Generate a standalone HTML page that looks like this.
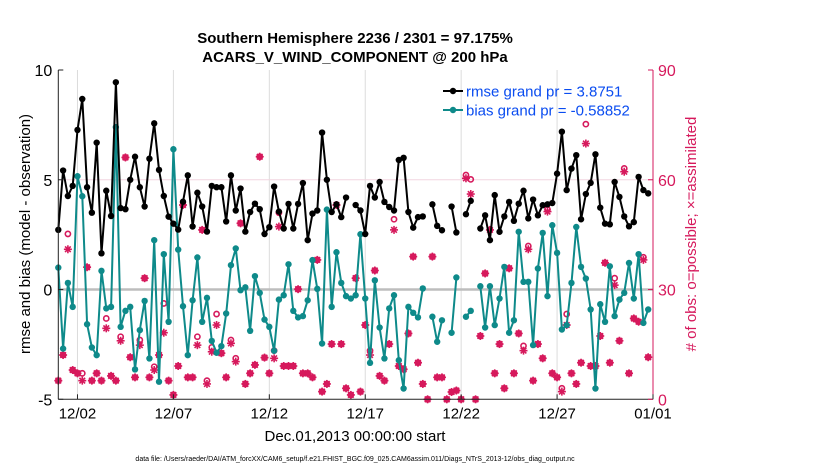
<!DOCTYPE html>
<html><head><meta charset="utf-8"><style>
body{margin:0;background:#fff}
svg{display:block;font-family:"Liberation Sans",sans-serif}
</style></head><body>
<svg id="chart" width="830" height="470" viewBox="0 0 830 470">
<text x="355" y="43" text-anchor="middle" font-size="15" font-weight="bold">Southern Hemisphere 2236 / 2301 = 97.175%</text>
<text x="355" y="62" text-anchor="middle" font-size="15" font-weight="bold">ACARS_V_WIND_COMPONENT @ 200 hPa</text>
<g id="grid"></g>
<g id="marks"></g>
<g id="axes"></g>
<text transform="translate(30,234) rotate(-90)" text-anchor="middle" font-size="15">rmse and bias (model - observation)</text>
<text transform="translate(696,234) rotate(-90)" text-anchor="middle" font-size="15" fill="#d6195c"># of obs: o=possible; ×=assimilated</text>
<text x="355" y="441" text-anchor="middle" font-size="15">Dec.01,2013 00:00:00 start</text>
<text x="355" y="461" text-anchor="middle" font-size="7">data file: /Users/raeder/DAI/ATM_forcXX/CAM6_setup/f.e21.FHIST_BGC.f09_025.CAM6assim.011/Diags_NTrS_2013-12/obs_diag_output.nc</text>
<g>
<line x1="443" y1="91" x2="463" y2="91" stroke="#000" stroke-width="2"/><circle cx="453" cy="91" r="3.2" fill="#000"/>
<text x="466" y="96.5" font-size="15" fill="#0a4cf0">rmse grand pr = 3.8751</text>
<line x1="443" y1="110" x2="463" y2="110" stroke="#0e8a8a" stroke-width="2"/><circle cx="453" cy="110" r="3.2" fill="#0e8a8a"/>
<text x="466" y="115.5" font-size="15" fill="#0a4cf0">bias grand pr = -0.58852</text>
</g>
</svg>
<script>
const rmse=[2.72,5.42,4.26,4.72,7.27,8.68,4.66,3.5,6.69,1.65,4.5,3.35,9.44,3.71,3.66,5.0,6.05,4.66,3.78,5.96,7.57,5.45,4.26,3.32,3.0,2.73,4.0,5.2,2.87,4.41,3.78,2.64,4.72,4.66,4.66,3.1,5.2,3.6,4.6,2.64,
3.53,3.91,3.66,2.53,2.84,4.69,3.55,2.78,3.9,2.78,3.9,4.85,2.25,3.46,3.6,7.15,5.0,3.53,3.88,3.3,4.19,null,3.85,3.6,2.53,4.72,4.19,4.9,3.99,3.76,3.6,5.9,6.0,3.53,2.82,3.3,3.33,null,3.88,2.9,2.7,
null,3.78,2.6,null,3.43,4.04,null,2.78,3.38,2.25,4.3,2.63,3.33,3.99,3.13,3.91,4.5,3.24,4.1,3.38,3.84,3.88,3.94,5.28,7.19,4.53,5.51,6.12,3.2,4.35,4.86,6.16,3.73,3.0,2.97,4.9,4.22,3.33,2.88,3.07,5.13,4.53,4.38];
const bias=[1.0,-2.69,0.3,-0.79,5.16,4.25,-1.58,-2.64,-2.99,0.85,-0.86,-0.79,7.4,-1.7,-0.97,-0.79,-3.64,-1.85,-0.52,-3.14,2.25,-4.2,1.61,-1.47,6.39,1.82,-0.76,-2.99,-0.49,1.46,-1.47,-0.38,-2.34,-2.88,-2.58,-1.09,1.11,1.87,-0.03,0.1,
-1.88,0.61,-0.15,-1.37,-1.7,-2.79,-0.46,-0.26,1.15,-0.97,-1.27,-1.21,-0.49,1.34,0.03,-2.46,3.64,-0.79,1.7,0.3,-0.3,-0.41,-0.26,2.52,-0.41,-3.34,0.42,-1.73,-3.14,-0.86,-0.26,-3.22,-4.51,-0.79,-1.06,-1.27,0.05,null,-1.24,-2.38,-1.4,
null,-1.97,0.55,null,-1.24,-0.97,null,0.15,-1.73,0.15,-1.62,-0.41,1.03,-1.97,-1.4,2.63,0.35,0.35,-2.53,0.96,2.58,-0.3,2.93,1.67,-1.82,-1.62,0.3,2.85,1.03,0.5,-0.91,-4.51,-0.67,-1.47,1.06,-1.21,-0.46,-0.15,1.21,-0.41,1.61,-1.52,-0.91];
const possible=[5.1,12.1,45.2,8.0,7.1,7.1,36.1,5.1,7.1,5.1,22.1,6.4,5.1,17.1,66.1,11.5,6.0,16.2,33.1,6.0,8.9,12.1,26.2,5.1,1.2,9.1,53.1,6.0,6.0,17.1,46.3,5.1,14.2,23.3,12.6,6.0,16.2,11.2,48.1,4.2,
7.1,9.4,66.3,11.4,7.1,13.3,51.0,9.1,9.1,9.1,30.1,7.1,7.1,6.0,38.1,2.1,4.2,15.1,53.1,15.1,3.0,1.2,33.1,2.1,20.3,13.3,35.2,6.4,5.1,15.1,49.2,9.1,8.2,18.0,39.0,10.0,4.2,0,39.0,6.0,6.0,
0,2,2.4,0,61.3,60.1,0,17.3,34.4,46.3,7.1,15.1,3.0,35.8,7.1,18.0,14.6,41.9,5.1,15.1,11.2,51.9,7.1,6.0,3.0,23.3,7.1,4.2,10.0,75.2,9.1,9.1,17.3,37.3,10.0,33.1,16.0,63.1,7.1,22.1,21.2,38.8,11.5];
const assimilated=[5.1,12.1,41.0,8.0,7.1,5.1,36.1,5.1,7.1,5.1,19.4,6.4,5.1,16.0,66.1,11.5,6.0,14.8,33.1,6.0,8.0,12.1,18.2,5.1,1.2,9.1,53.1,6.0,6.0,14.8,46.3,4.2,13.0,20.3,12.6,6.0,15.3,10.3,48.1,4.2,
7.1,9.4,66.3,11.4,7.1,11.2,47.2,9.1,9.1,9.1,30.1,7.1,7.1,6.0,38.1,2.1,4.2,15.1,53.1,15.1,3.0,1.2,33.1,2.1,20.3,12.1,35.2,6.4,5.1,15.1,46.3,9.1,8.2,18.0,39.0,10.0,4.2,0,39.0,6.0,6.0,
0,2,2.4,0,60.4,56.1,0,17.3,34.4,46.3,7.1,15.1,3.0,35.8,7.1,18.0,13.3,41.0,5.1,15.1,11.2,51.3,7.1,6.0,2.1,20.3,7.1,4.2,10.0,69.9,9.1,9.1,17.3,37.3,10.0,31.2,16.0,62.2,7.1,22.1,21.2,38.1,11.5];
const xTickLabels=["12/02","12/07","12/12","12/17","12/22","12/27","01/01"];
const xTickDays=[1,6,11,16,21,26,31];
const yTicks=[-5,0,5,10];
const yRTicks=[0,30,60,90];

const NS="http://www.w3.org/2000/svg";
const X0=58.3,X1=653,Y0=399.3,Y1=70;
const xs=d=>X0+d/31*(X1-X0);
const yL=v=>Y0-(v+5)/15*(Y0-Y1);
const yR=c=>Y0-c/90*(Y0-Y1);
const tOf=i=>i*0.25;
function mk(tag,attrs,parent){const e=document.createElementNS(NS,tag);for(const k in attrs)e.setAttribute(k,attrs[k]);parent.appendChild(e);return e;}
const grid=document.getElementById('grid'),marks=document.getElementById('marks'),axes=document.getElementById('axes');
mk('rect',{x:X0,y:Y1,width:X1-X0,height:Y0-Y1,fill:'#fff'},grid);
xTickDays.forEach(d=>{const l=mk('line',{x1:xs(d),x2:xs(d),y1:Y1,y2:Y0,stroke:'#dcdcdc','stroke-width':1},grid);

});
const g5=mk('line',{x1:X0,x2:X1,y1:yL(5),y2:yL(5),stroke:'#f2d6e0','stroke-width':1},grid);


const z=mk('line',{x1:X0,x2:X1,y1:yL(0),y2:yL(0),stroke:'#bdbdbd','stroke-width':2.5},grid);


// obs counts
const MG='#d6195c';
possible.forEach((c,i)=>{if(c==null)return;const e=mk('circle',{cx:xs(tOf(i)),cy:yR(c),r:2.6,fill:'none',stroke:MG,'stroke-width':1.6},marks);

});
assimilated.forEach((c,i)=>{if(c==null)return;const cx=xs(tOf(i)),cy=yR(c),r=4;
const g=mk('g',{stroke:MG,'stroke-width':1.6},marks);


for(let a=0;a<4;a++){const t=a*Math.PI/4;mk('line',{x1:cx-r*Math.cos(t),y1:cy-r*Math.sin(t),x2:cx+r*Math.cos(t),y2:cy+r*Math.sin(t)},g);}
mk('circle',{cx:cx,cy:cy,r:1.8,fill:MG,stroke:'none'},g);});
function series(arr,color,name){let d='',pen=false;
arr.forEach((v,i)=>{if(v==null){pen=false;return;}d+=(pen?'L':'M')+xs(tOf(i)).toFixed(1)+' '+yL(v).toFixed(1);pen=true;});
const p=mk('path',{d:d,fill:'none',stroke:color,'stroke-width':2,'stroke-linejoin':'round'},marks);


arr.forEach((v,i)=>{if(v==null)return;const c=mk('circle',{cx:xs(tOf(i)),cy:yL(v),r:3.2,fill:color},marks);

});}
series(bias,'#0e8a8a','bias');
series(rmse,'#000','rmse');
// axes
mk('line',{x1:X0,x2:X0,y1:Y1,y2:Y0,stroke:'#222','stroke-width':1},axes);
mk('line',{x1:X0,x2:X1,y1:Y0,y2:Y0,stroke:'#222','stroke-width':1},axes);
mk('line',{x1:X1,x2:X1,y1:Y1,y2:Y0,stroke:MG,'stroke-width':1},axes);
yTicks.forEach(v=>{mk('line',{x1:X0,x2:X0+5,y1:yL(v),y2:yL(v),stroke:'#222'},axes);
const t=mk('text',{x:X0-6,y:yL(v)+6,'text-anchor':'end','font-size':16},axes);t.textContent=v;

});
yRTicks.forEach(v=>{mk('line',{x1:X1-5,x2:X1,y1:yR(v),y2:yR(v),stroke:MG},axes);
const t=mk('text',{x:X1+5,y:yR(v)+6,'font-size':16,fill:MG},axes);t.textContent=v;

});
xTickDays.forEach((d,k)=>{mk('line',{x1:xs(d),x2:xs(d),y1:Y0-5,y2:Y0,stroke:'#222'},axes);
const t=mk('text',{x:xs(d),y:Y0+19,'text-anchor':'middle','font-size':15},axes);t.textContent=xTickLabels[k];

});
</script>
</body></html>
